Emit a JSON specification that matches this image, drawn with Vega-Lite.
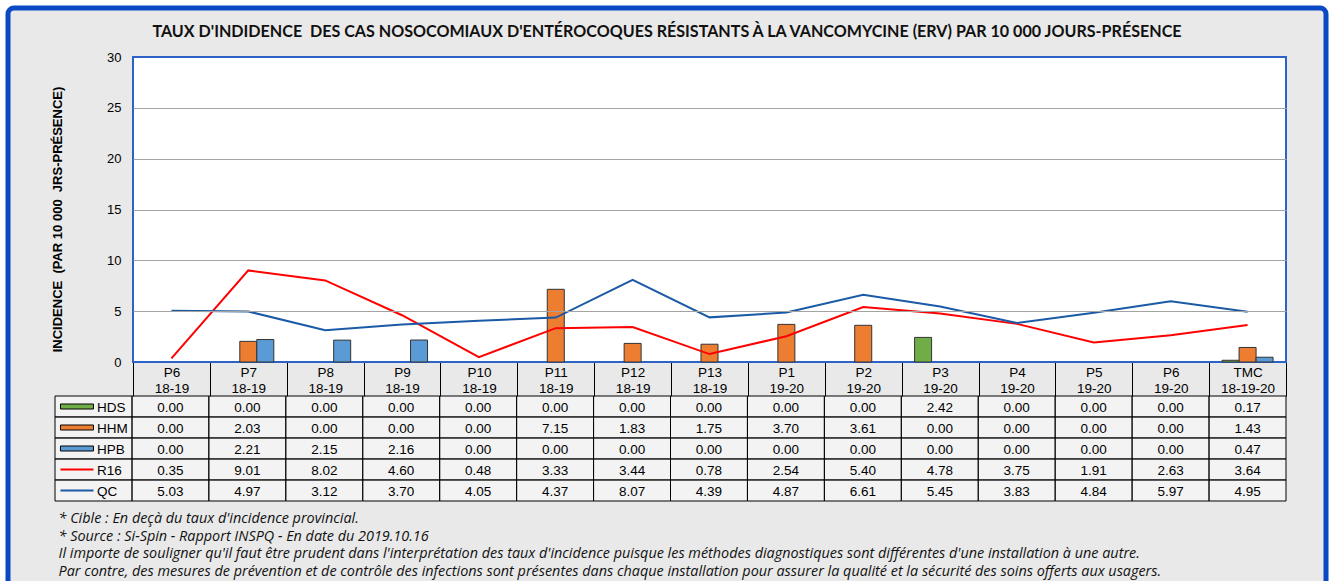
{
  "$schema": "https://vega.github.io/schema/vega-lite/v6.json",
  "width": 1318,
  "height": 580,
  "autosize": {"type": "none"},
  "padding": {"left": 8, "top": 8, "right": 5, "bottom": -7},
  "background": "white",
  "config": {
    "font": "Liberation Sans",
    "view": {"stroke": null, "fill": "#e9e9e9", "cornerRadius": 6}
  },
  "title": {
    "text": "TAUX D'INDIDENCE\u00a0 DES CAS NOSOCOMIAUX D'ENTÉROCOQUES RÉSISTANTS À LA VANCOMYCINE (ERV) PAR 10 000 JOURS-PRÉSENCE",
    "font": "Lato", "fontSize": 16.1, "fontWeight": "bold", "color": "#111111",
    "anchor": "middle", "frame": "group", "offset": -35
  },
  "datasets": {
    "series": [
      {"s": "HDS", "kind": "bar"}, {"s": "HHM", "kind": "bar"}, {"s": "HPB", "kind": "bar"},
      {"s": "R16", "kind": "line"}, {"s": "QC", "kind": "line"}
    ],
    "vals": [
      {"p": "P6 18-19", "s": "HDS", "v": 0}, {"p": "P7 18-19", "s": "HDS", "v": 0}, {"p": "P8 18-19", "s": "HDS", "v": 0}, {"p": "P9 18-19", "s": "HDS", "v": 0}, {"p": "P10 18-19", "s": "HDS", "v": 0}, {"p": "P11 18-19", "s": "HDS", "v": 0}, {"p": "P12 18-19", "s": "HDS", "v": 0}, {"p": "P13 18-19", "s": "HDS", "v": 0}, {"p": "P1 19-20", "s": "HDS", "v": 0}, {"p": "P2 19-20", "s": "HDS", "v": 0}, {"p": "P3 19-20", "s": "HDS", "v": 2.42}, {"p": "P4 19-20", "s": "HDS", "v": 0}, {"p": "P5 19-20", "s": "HDS", "v": 0}, {"p": "P6 19-20", "s": "HDS", "v": 0}, {"p": "TMC 18-19-20", "s": "HDS", "v": 0.17},
      {"p": "P6 18-19", "s": "HHM", "v": 0}, {"p": "P7 18-19", "s": "HHM", "v": 2.03}, {"p": "P8 18-19", "s": "HHM", "v": 0}, {"p": "P9 18-19", "s": "HHM", "v": 0}, {"p": "P10 18-19", "s": "HHM", "v": 0}, {"p": "P11 18-19", "s": "HHM", "v": 7.15}, {"p": "P12 18-19", "s": "HHM", "v": 1.83}, {"p": "P13 18-19", "s": "HHM", "v": 1.75}, {"p": "P1 19-20", "s": "HHM", "v": 3.70}, {"p": "P2 19-20", "s": "HHM", "v": 3.61}, {"p": "P3 19-20", "s": "HHM", "v": 0}, {"p": "P4 19-20", "s": "HHM", "v": 0}, {"p": "P5 19-20", "s": "HHM", "v": 0}, {"p": "P6 19-20", "s": "HHM", "v": 0}, {"p": "TMC 18-19-20", "s": "HHM", "v": 1.43},
      {"p": "P6 18-19", "s": "HPB", "v": 0}, {"p": "P7 18-19", "s": "HPB", "v": 2.21}, {"p": "P8 18-19", "s": "HPB", "v": 2.15}, {"p": "P9 18-19", "s": "HPB", "v": 2.16}, {"p": "P10 18-19", "s": "HPB", "v": 0}, {"p": "P11 18-19", "s": "HPB", "v": 0}, {"p": "P12 18-19", "s": "HPB", "v": 0}, {"p": "P13 18-19", "s": "HPB", "v": 0}, {"p": "P1 19-20", "s": "HPB", "v": 0}, {"p": "P2 19-20", "s": "HPB", "v": 0}, {"p": "P3 19-20", "s": "HPB", "v": 0}, {"p": "P4 19-20", "s": "HPB", "v": 0}, {"p": "P5 19-20", "s": "HPB", "v": 0}, {"p": "P6 19-20", "s": "HPB", "v": 0}, {"p": "TMC 18-19-20", "s": "HPB", "v": 0.47},
      {"p": "P6 18-19", "s": "R16", "v": 0.35}, {"p": "P7 18-19", "s": "R16", "v": 9.01}, {"p": "P8 18-19", "s": "R16", "v": 8.02}, {"p": "P9 18-19", "s": "R16", "v": 4.60}, {"p": "P10 18-19", "s": "R16", "v": 0.48}, {"p": "P11 18-19", "s": "R16", "v": 3.33}, {"p": "P12 18-19", "s": "R16", "v": 3.44}, {"p": "P13 18-19", "s": "R16", "v": 0.78}, {"p": "P1 19-20", "s": "R16", "v": 2.54}, {"p": "P2 19-20", "s": "R16", "v": 5.40}, {"p": "P3 19-20", "s": "R16", "v": 4.78}, {"p": "P4 19-20", "s": "R16", "v": 3.75}, {"p": "P5 19-20", "s": "R16", "v": 1.91}, {"p": "P6 19-20", "s": "R16", "v": 2.63}, {"p": "TMC 18-19-20", "s": "R16", "v": 3.64},
      {"p": "P6 18-19", "s": "QC", "v": 5.03}, {"p": "P7 18-19", "s": "QC", "v": 4.97}, {"p": "P8 18-19", "s": "QC", "v": 3.12}, {"p": "P9 18-19", "s": "QC", "v": 3.70}, {"p": "P10 18-19", "s": "QC", "v": 4.05}, {"p": "P11 18-19", "s": "QC", "v": 4.37}, {"p": "P12 18-19", "s": "QC", "v": 8.07}, {"p": "P13 18-19", "s": "QC", "v": 4.39}, {"p": "P1 19-20", "s": "QC", "v": 4.87}, {"p": "P2 19-20", "s": "QC", "v": 6.61}, {"p": "P3 19-20", "s": "QC", "v": 5.45}, {"p": "P4 19-20", "s": "QC", "v": 3.83}, {"p": "P5 19-20", "s": "QC", "v": 4.84}, {"p": "P6 19-20", "s": "QC", "v": 5.97}, {"p": "TMC 18-19-20", "s": "QC", "v": 4.95}
    ]
  },
  "layer": [
    {
      "data": {"values": [{}]},
      "mark": {"type": "rect", "fill": "#ffffff", "stroke": "#2d62c6", "strokeWidth": 2},
      "encoding": {
        "x": {"datum": 0, "type": "quantitative", "scale": {"domain": [0, 1], "range": [125, 1278], "nice": false, "zero": false}, "axis": null},
        "x2": {"datum": 1},
        "y": {"datum": 0, "type": "quantitative", "scale": {"domain": [0, 30], "range": [354, 49], "nice": false}, "axis": null},
        "y2": {"datum": 30}
      }
    },
    {
      "data": {"name": "vals"},
      "encoding": {
        "x": {
          "field": "p", "type": "nominal",
          "scale": {"domain": ["P6 18-19", "P7 18-19", "P8 18-19", "P9 18-19", "P10 18-19", "P11 18-19", "P12 18-19", "P13 18-19", "P1 19-20", "P2 19-20", "P3 19-20", "P4 19-20", "P5 19-20", "P6 19-20", "TMC 18-19-20"], "range": [125, 1278], "paddingInner": 0, "paddingOuter": 0},
          "axis": {
            "orient": "bottom", "offset": -226, "domain": false, "grid": false,
            "ticks": true, "tickBand": "extent", "tickSize": 34, "tickColor": "#000000", "tickWidth": 1,
            "labelExpr": "split(datum.label, ' ')", "labelAngle": 0, "labelFont": "Liberation Sans", "labelFontSize": 13.5,
            "labelLineHeight": 15.6, "labelColor": "#000000", "labelPadding": -30.2, "labelBaseline": "top", "labelOverlap": false, "labelLimit": 200,
            "title": [
              "* Cible : En deçà du taux d'incidence provincial.",
              "* Source : Si-Spin - Rapport INSPQ - En date du 2019.10.16",
              "\u00a0\u00a0Il importe de souligner qu'il faut être prudent dans l'interprétation des taux d'incidence puisque les méthodes diagnostiques sont différentes d'une installation à une autre.",
              "\u00a0\u00a0Par contre, des mesures de prévention et de contrôle des infections sont présentes dans chaque installation pour assurer la qualité et la sécurité des soins offerts aux usagers."
            ],
            "titleX": 50, "titleY": 160.5, "titleAlign": "left", "titleBaseline": "alphabetic",
            "titleFont": "Open Sans", "titleFontSize": 14.4, "titleFontStyle": "italic", "titleFontWeight": "normal",
            "titleColor": "#111111", "titleLineHeight": 17.5
          }
        },
        "y": {
          "field": "v", "type": "quantitative",
          "scale": {"domain": [0, 30], "range": [354, 49], "nice": false},
          "axis": {
            "orient": "left", "offset": -125, "values": [0, 5, 10, 15, 20, 25, 30],
            "domain": false, "ticks": false, "labelPadding": 12, "labelFontSize": 13, "labelColor": "#000000",
            "grid": true, "gridWidth": 1,
            "gridColor": {"condition": {"test": "datum.value == 0 || datum.value == 30", "value": "transparent"}, "value": "#a3a3a3"},
            "zindex": 1,
            "title": "INCIDENCE\u00a0\u00a0(PAR\u00a010\u00a0000\u00a0\u00a0JRS-PRÉSENCE)",
            "titleFontSize": 13, "titleFontWeight": "bold", "titleColor": "#000000",
            "titleX": -76, "titleY": 211, "titleAngle": 270, "titleAlign": "center", "titleBaseline": "middle"
          }
        }
      },
      "layer": [
        {
          "transform": [{"filter": "(datum.s == 'HDS' || datum.s == 'HHM' || datum.s == 'HPB') && datum.v > 0"}],
          "mark": {"type": "bar", "stroke": "#333333", "strokeWidth": 1},
          "encoding": {
            "xOffset": {"field": "s", "type": "nominal", "scale": {"domain": ["HDS", "HHM", "HPB"], "paddingInner": 0, "paddingOuter": 0.76}},
            "color": {"field": "s", "type": "nominal", "scale": {"domain": ["HDS", "HHM", "HPB", "R16", "QC"], "range": ["#70ad47", "#ed7d31", "#5b9bd5", "#ff0000", "#1b5aa6"]}, "legend": null}
          }
        },
        {
          "transform": [{"filter": "datum.s == 'R16' || datum.s == 'QC'"}],
          "mark": {"type": "line", "strokeWidth": 2},
          "encoding": {
            "color": {"field": "s", "type": "nominal", "legend": null},
            "order": {"value": null}
          }
        }
      ]
    },
    {
      "layer": [
        {
          "data": {"name": "vals"},
          "mark": {"type": "rect", "fill": "#ffffff", "fillOpacity": 0.45, "stroke": "#000000", "strokeWidth": 1},
          "encoding": {
            "x": {"field": "p", "type": "nominal", "scale": {"domain": ["LEG", "P6 18-19", "P7 18-19", "P8 18-19", "P9 18-19", "P10 18-19", "P11 18-19", "P12 18-19", "P13 18-19", "P1 19-20", "P2 19-20", "P3 19-20", "P4 19-20", "P5 19-20", "P6 19-20", "TMC 18-19-20"], "range": [47, 1278], "paddingInner": 0, "paddingOuter": 0}, "axis": null},
            "y": {"field": "s", "type": "nominal", "scale": {"domain": ["HDS", "HHM", "HPB", "R16", "QC"], "range": [388, 493], "paddingInner": 0, "paddingOuter": 0}, "axis": null}
          }
        },
        {
          "data": {"name": "series"},
          "mark": {"type": "rect", "fill": "#ffffff", "fillOpacity": 0.45, "stroke": "#000000", "strokeWidth": 1},
          "encoding": {
            "x": {"datum": "LEG", "type": "nominal", "axis": null},
            "y": {"field": "s", "type": "nominal", "axis": null}
          }
        },
        {
          "data": {"name": "vals"},
          "mark": {"type": "text", "fontSize": 13.5, "font": "Liberation Sans", "color": "#000000", "align": "center", "baseline": "middle", "dy": 1.5},
          "encoding": {
            "x": {"field": "p", "type": "nominal", "axis": null},
            "y": {"field": "s", "type": "nominal", "axis": null},
            "text": {"field": "v", "type": "quantitative", "format": ".2f"}
          }
        },
        {
          "data": {"name": "series"},
          "transform": [{"filter": "datum.kind == 'bar'"}],
          "mark": {"type": "tick", "orient": "horizontal", "size": 33, "thickness": 5, "stroke": "#000000", "strokeWidth": 1, "opacity": 1, "xOffset": -16.5},
          "encoding": {
            "x": {"datum": "LEG", "type": "nominal", "axis": null},
            "y": {"field": "s", "type": "nominal", "axis": null},
            "color": {"field": "s", "type": "nominal", "legend": null}
          }
        },
        {
          "data": {"name": "series"},
          "transform": [{"filter": "datum.kind == 'line'"}],
          "mark": {"type": "tick", "orient": "horizontal", "size": 33, "thickness": 2, "opacity": 1, "xOffset": -16.5},
          "encoding": {
            "x": {"datum": "LEG", "type": "nominal", "axis": null},
            "y": {"field": "s", "type": "nominal", "axis": null},
            "color": {"field": "s", "type": "nominal", "legend": null}
          }
        },
        {
          "data": {"name": "series"},
          "mark": {"type": "text", "fontSize": 13.5, "font": "Liberation Sans", "color": "#000000", "align": "left", "baseline": "middle", "dx": 3.5, "dy": 1.5},
          "encoding": {
            "x": {"datum": "LEG", "type": "nominal", "axis": null},
            "y": {"field": "s", "type": "nominal", "axis": null},
            "text": {"field": "s", "type": "nominal"}
          }
        }
      ]
    },
    {
      "data": {"values": [{}]},
      "mark": {"type": "rect", "fill": "transparent", "stroke": "#0b48c4", "strokeWidth": 5, "strokeOpacity": 1, "cornerRadius": 6},
      "encoding": {
        "x": {"datum": 0, "type": "quantitative", "scale": {"domain": [0, 1], "range": [0, 1318], "nice": false, "zero": false}, "axis": null},
        "x2": {"datum": 1},
        "y": {"datum": 0, "type": "quantitative", "scale": {"domain": [0, 1], "range": [0, 580], "nice": false, "zero": false}, "axis": null},
        "y2": {"datum": 1}
      }
    }
  ],
  "resolve": {"scale": {"x": "independent", "y": "independent"}}
}
